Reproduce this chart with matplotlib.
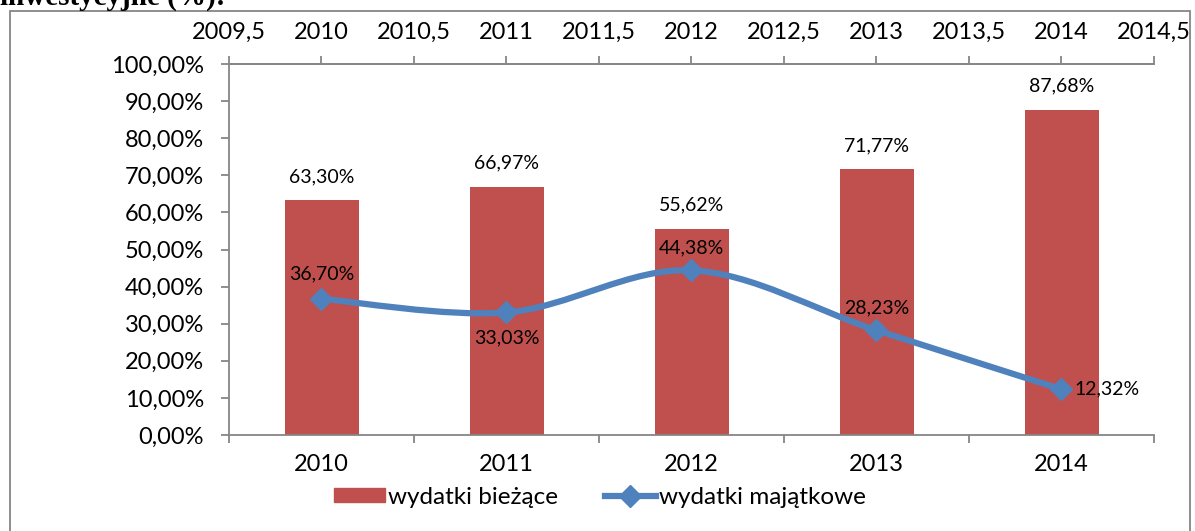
import numpy as np
import matplotlib.pyplot as plt
from matplotlib.path import Path
from matplotlib.patches import PathPatch, Rectangle
from matplotlib.lines import Line2D

years = ["2010", "2011", "2012", "2013", "2014"]
biezace = [63.30, 66.97, 55.62, 71.77, 87.68]
majatkowe = [36.70, 33.03, 44.38, 28.23, 12.32]
top_ticks = [2009.5, 2010, 2010.5, 2011, 2011.5, 2012, 2012.5, 2013, 2013.5, 2014, 2014.5]
y_ticks = [0, 10, 20, 30, 40, 50, 60, 70, 80, 90, 100]

RED = "#C0504D"
BLUE = "#4F81BD"
GRAY = "#868686"
FONT = "Lato"
TICK_FS = 17
LABEL_FS = 14


def pl(v, dec=2):
    return ("%.*f" % (dec, v)).replace(".", ",")


fig = plt.figure(figsize=(11.95, 5.31), dpi=100)
plt.rcParams["font.family"] = FONT

# cropped heading of the source document
fig.text(0.0, 1 - 5 / 531, "inwestycyjne (%):", family="Liberation Serif",
         weight="bold", fontsize=21, va="baseline", ha="left")

# chart frame
fig.patches.append(Rectangle((10 / 1195, -0.05), 1180 / 1195, 1.05 - 11 / 531,
                             transform=fig.transFigure, fill=False,
                             edgecolor=GRAY, linewidth=1.3))

ax = fig.add_axes([229 / 1195, 1 - 435 / 531, 925 / 1195, 371 / 531])
x = np.arange(len(years))
ax.bar(x, biezace, width=0.4, color=RED, zorder=2)
for xi, v in zip(x, biezace):
    ax.text(xi, v + 4.0, pl(v) + "%", ha="center", va="bottom", fontsize=LABEL_FS)

ax.set_xlim(-0.5, len(years) - 0.5)
ax.set_ylim(0, 100)
ax.set_yticks(y_ticks)
ax.set_yticklabels([pl(v) + "%" for v in y_ticks], fontsize=TICK_FS)
ax.set_xticks(x)
ax.set_xticklabels(years, fontsize=TICK_FS)
ax.set_xticks(np.arange(-0.5, len(years), 1), minor=True)
ax.tick_params(axis="x", which="major", length=0, pad=14)
ax.tick_params(axis="x", which="minor", length=6, color=GRAY, width=1.3)
ax.tick_params(axis="y", length=6, color=GRAY, width=1.3, pad=12)
ax.spines["right"].set_visible(False)
for s in ["left", "bottom", "top"]:
    ax.spines[s].set_color(GRAY)
    ax.spines[s].set_linewidth(1.3)

# secondary (top) axis used by the line series
ax2 = ax.twiny()
ax2.set_xlim(top_ticks[0], top_ticks[-1])
ax2.set_xticks(top_ticks)
ax2.set_xticklabels([pl(t, 1).replace(",0", "") for t in top_ticks], fontsize=TICK_FS)
ax2.tick_params(axis="x", length=6, color=GRAY, width=1.3, pad=9)
for s in ["right", "left", "bottom"]:
    ax2.spines[s].set_visible(False)
ax2.spines["top"].set_color(GRAY)
ax2.spines["top"].set_linewidth(1.3)

# smoothed line (Bezier segments through the data points)
lx = [float(y) for y in years]
pts = np.column_stack([lx, majatkowe])
ext = np.vstack([pts[0], pts, pts[-1]])
verts = [tuple(pts[0])]
codes = [Path.MOVETO]
for i in range(len(pts) - 1):
    p0, p1, p2, p3 = ext[i], ext[i + 1], ext[i + 2], ext[i + 3]
    c1 = p1 + (p2 - p0) / 6
    c2 = p2 - (p3 - p1) / 6
    verts += [tuple(c1), tuple(c2), tuple(p2)]
    codes += [Path.CURVE4] * 3
ax2.add_patch(PathPatch(Path(verts, codes), fill=False, edgecolor=BLUE,
                        linewidth=4.5, capstyle="round", zorder=3))
ax2.plot(lx, majatkowe, linestyle="none", marker="D", markersize=11,
         color=BLUE, zorder=4)

offsets = [(0, 12, "center", "bottom"), (0, -12, "center", "top"),
           (0, 10, "center", "bottom"), (0, 10, "center", "bottom"),
           (9, 0, "left", "center")]
for xi, v, (dx, dy, ha, va) in zip(lx, majatkowe, offsets):
    ax2.annotate(pl(v) + "%", (xi, v), xytext=(dx, dy), textcoords="offset points",
                 ha=ha, va=va, fontsize=LABEL_FS)

handles = [Rectangle((0, 0), 1, 1, color=RED),
           Line2D([], [], color=BLUE, linewidth=4.5, marker="D", markersize=11)]
fig.legend(handles, ["wydatki bieżące", "wydatki majątkowe"], loc="center",
           bbox_to_anchor=(600 / 1195, 1 - 497 / 531), ncol=2, frameon=False,
           fontsize=17.5, handlelength=2.1, handleheight=0.55, handletextpad=0.15,
           columnspacing=1.9, borderpad=0, borderaxespad=0)

fig.savefig("out.png", dpi=100)
